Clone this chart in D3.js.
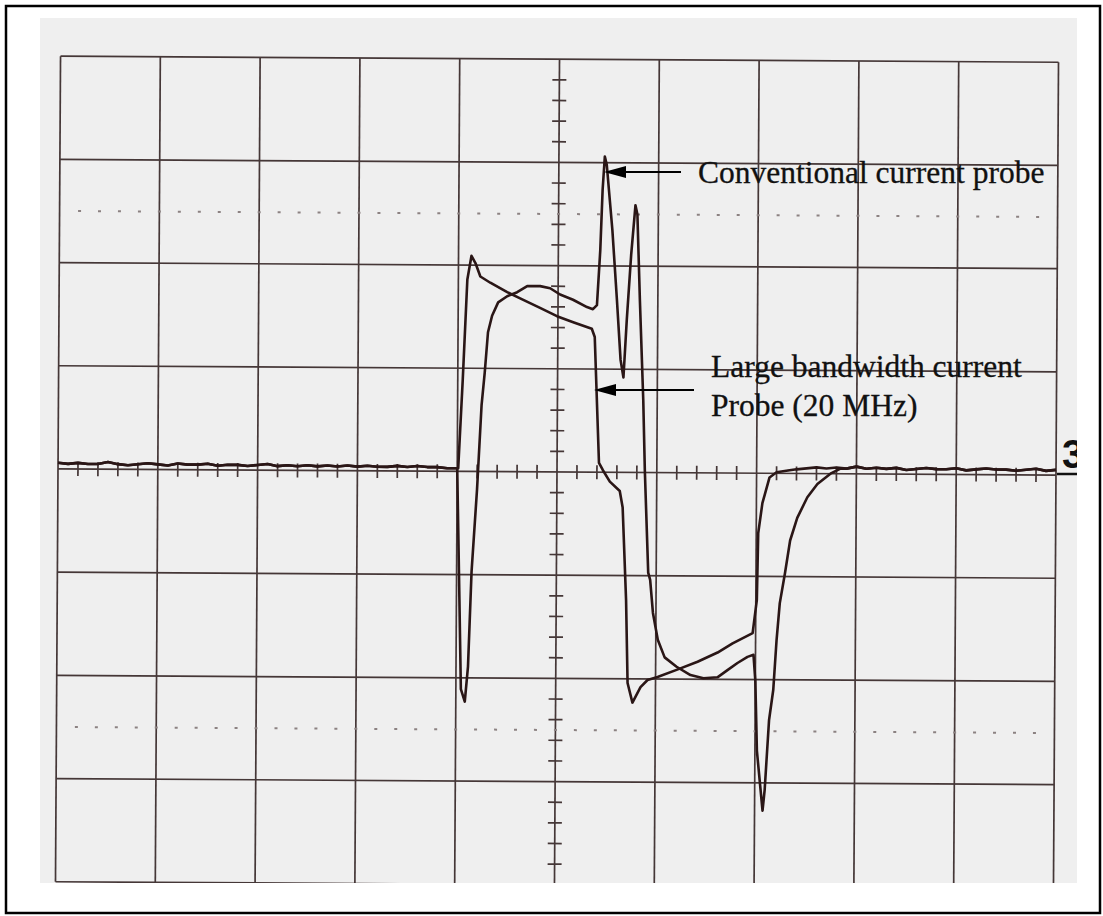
<!DOCTYPE html>
<html>
<head>
<meta charset="utf-8">
<script src="https://cdn.jsdelivr.net/npm/d3@7"></script>
<style>
  body { margin: 0; background: #fff; }
  svg { display: block; }
</style>
</head>
<body>
<div id="chart"></div>
<script>
// scope screen in divisions: time 0..10, amplitude -4..4
const baselineLeft = [[0, 0.06], [0.1, 0.05], [0.2, 0.06], [0.3, 0.05], [0.4, 0.05], [0.5, 0.07], [0.6, 0.05], [0.7, 0.04], [0.8, 0.05], [0.9, 0.06],
	[1.0, 0.05], [1.1, 0.04], [1.2, 0.06], [1.3, 0.05], [1.4, 0.05], [1.5, 0.06], [1.6, 0.04], [1.7, 0.05], [1.8, 0.05], [1.9, 0.04],
	[2.0, 0.05], [2.1, 0.06], [2.2, 0.04], [2.3, 0.05], [2.4, 0.04], [2.5, 0.05], [2.6, 0.04], [2.7, 0.05], [2.8, 0.04], [2.9, 0.05],
	[3.0, 0.04], [3.1, 0.05], [3.2, 0.04], [3.3, 0.04], [3.4, 0.05], [3.5, 0.04], [3.6, 0.05], [3.7, 0.04], [3.8, 0.04], [3.9, 0.03]];

const baselineRight = [[7.4, 0.04], [7.5, 0.05], [7.6, 0.06], [7.7, 0.05], [7.8, 0.06], [7.9, 0.05], [8.0, 0.07], [8.1, 0.05], [8.2, 0.06],
	[8.3, 0.05], [8.4, 0.06], [8.5, 0.04], [8.6, 0.05], [8.7, 0.06], [8.8, 0.05], [8.9, 0.05], [9.0, 0.06], [9.1, 0.04], [9.2, 0.05],
	[9.3, 0.06], [9.4, 0.05], [9.5, 0.05], [9.6, 0.04], [9.7, 0.05], [9.8, 0.06], [9.9, 0.04], [10.0, 0.05]];

// large bandwidth current probe (20 MHz)
const largeBandwidth = [[4.01, 0.03], [4.05, 0.89], [4.09, 1.86], [4.13, 2.09], [4.17, 2.02], [4.22, 1.89], [4.32, 1.83], [4.49, 1.74],
	[4.62, 1.68], [4.82, 1.59], [4.99, 1.51], [5.16, 1.45], [5.34, 1.39], [5.37, 1.31], [5.42, 0.09], [5.46, 0.02], [5.53, -0.09],
	[5.63, -0.18], [5.66, -0.34], [5.70, -1.24], [5.72, -2.04], [5.77, -2.23], [5.85, -2.08], [5.92, -2.01], [6.02, -1.98],
	[6.21, -1.91], [6.42, -1.83], [6.62, -1.74], [6.77, -1.65], [6.97, -1.55], [7.01, -1.23], [7.02, -0.58], [7.06, -0.29],
	[7.13, -0.04], [7.20, 0.01], [7.33, 0.03]];

// conventional current probe
const conventional = [[4.0, 0.03], [4.03, -1.24], [4.05, -2.11], [4.09, -2.23], [4.12, -1.89], [4.15, -0.97], [4.20, -0.17],
	[4.24, 0.64], [4.27, 0.96], [4.30, 1.35], [4.34, 1.51], [4.40, 1.64], [4.49, 1.70], [4.59, 1.74], [4.69, 1.80], [4.82, 1.80],
	[4.92, 1.78], [5.02, 1.72], [5.15, 1.67], [5.29, 1.60], [5.35, 1.58], [5.39, 1.62], [5.42, 2.15], [5.44, 2.74], [5.46, 3.06],
	[5.48, 2.98], [5.54, 2.35], [5.59, 1.67], [5.63, 1.09], [5.66, 0.92], [5.69, 1.48], [5.73, 2.11], [5.77, 2.59], [5.79, 2.50],
	[5.82, 1.67], [5.86, 0.70], [5.88, 0.02], [5.92, -0.97], [5.94, -1.04], [5.97, -1.36], [6.02, -1.62], [6.09, -1.79],
	[6.21, -1.88], [6.35, -1.96], [6.48, -1.99], [6.62, -1.98], [6.72, -1.91], [6.82, -1.84], [6.92, -1.78], [6.98, -1.76],
	[7.00, -2.01], [7.02, -2.69], [7.08, -3.27], [7.10, -3.07], [7.14, -2.39], [7.18, -2.10], [7.21, -1.62], [7.24, -1.26],
	[7.29, -0.97], [7.34, -0.65], [7.41, -0.43], [7.51, -0.23], [7.61, -0.10], [7.74, 0.00], [7.84, 0.05]];

const conventionalLabel = 'Conventional current probe';
const largeBandwidthLabel = ['Large bandwidth current', 'Probe (20 MHz)'];
const channelLabel = '3';
const dottedLevels = [2.5, -2.5];

const W = 1103, H = 916;
const ink = '#2a1616';
const gridInk = '#453737';

const svg = d3.select('#chart').append('svg').attr('width', W).attr('height', H);

// page frame
svg.append('rect').attr('x', 6).attr('y', 6).attr('width', W - 9).attr('height', H - 9)
	.attr('fill', '#fff').attr('stroke', '#000').attr('stroke-width', 2.5);

// the photographed screen
svg.append('clipPath').attr('id', 'photo').append('rect')
	.attr('x', 40).attr('y', 18).attr('width', 1037).attr('height', 865);
svg.append('rect').attr('x', 40).attr('y', 18).attr('width', 1037).attr('height', 865).attr('fill', '#efefef');

const photo = svg.append('g').attr('clip-path', 'url(#photo)');

const xScale = d3.scaleLinear().domain([0, 10]).range([58, 1056]);
const yScale = d3.scaleLinear().domain([-4, 4]).range([884.8, 59.2]);

// scan is slightly tilted
const screen = photo.append('g').attr('transform', `rotate(0.35, ${xScale(5)}, ${yScale(0)})`);

// major grid
screen.append('g').selectAll('line').data(d3.range(0, 11)).join('line')
	.attr('x1', (d) => xScale(d)).attr('x2', (d) => xScale(d))
	.attr('y1', yScale(4)).attr('y2', yScale(-4))
	.attr('stroke', gridInk).attr('stroke-width', 1.7);
screen.append('g').selectAll('line').data(d3.range(-4, 5)).join('line')
	.attr('y1', (d) => yScale(d)).attr('y2', (d) => yScale(d))
	.attr('x1', xScale(0)).attr('x2', xScale(10))
	.attr('stroke', gridInk).attr('stroke-width', 1.7);

// minor ticks on the centre axes
const minorT = d3.range(1, 50).map((i) => i / 5).filter((d) => d % 1 !== 0);
const minorV = d3.range(-19, 20).map((i) => i / 5).filter((d) => d % 1 !== 0);
screen.append('g').selectAll('line').data(minorT).join('line')
	.attr('x1', (d) => xScale(d)).attr('x2', (d) => xScale(d))
	.attr('y1', yScale(0) - 7).attr('y2', yScale(0) + 7)
	.attr('stroke', gridInk).attr('stroke-width', 1.7);
screen.append('g').selectAll('line').data(minorV).join('line')
	.attr('y1', (d) => yScale(d)).attr('y2', (d) => yScale(d))
	.attr('x1', xScale(5) - 7).attr('x2', xScale(5) + 7)
	.attr('stroke', gridInk).attr('stroke-width', 1.7);

// dotted rise-time levels
const dots = [];
dottedLevels.forEach((v) => minorT.concat(d3.range(1, 10)).forEach((t) => dots.push([t, v])));
screen.append('g').selectAll('rect').data(dots).join('rect')
	.attr('x', (d) => xScale(d[0]) - 1.5).attr('y', (d) => yScale(d[1]) - 1)
	.attr('width', 3).attr('height', 2)
	.attr('fill', '#8c8282');

// traces
const line = d3.line().x((d) => xScale(d[0])).y((d) => yScale(d[1]));
const traceLarge = baselineLeft.concat(largeBandwidth, baselineRight);
const traceConv = baselineLeft.concat(conventional, baselineRight.filter((d) => d[0] > 7.84));

screen.append('path').datum(traceLarge).attr('d', line)
	.attr('fill', 'none').attr('stroke', ink).attr('stroke-width', 2.6).attr('stroke-linejoin', 'round');
screen.append('path').datum(traceConv).attr('d', line)
	.attr('fill', 'none').attr('stroke', ink).attr('stroke-width', 2.6).attr('stroke-linejoin', 'round');

// channel marker
photo.append('text').attr('x', 1062).attr('y', 468)
	.style('font-family', '"Liberation Sans", Arial, sans-serif').style('font-weight', 'bold').style('font-size', '40px')
	.attr('fill', '#111').text(channelLabel);
photo.append('line').attr('x1', 1057).attr('x2', 1077).attr('y1', 474).attr('y2', 474)
	.attr('stroke', '#111').attr('stroke-width', 2.5);

// annotations
const serif = '"Liberation Serif", "Times New Roman", serif';

function arrow(x1, x2, y) {
	svg.append('line').attr('x1', x1 + 18).attr('x2', x2).attr('y1', y).attr('y2', y)
		.attr('stroke', '#000').attr('stroke-width', 1.8);
	svg.append('path').attr('d', `M${x1},${y} L${x1 + 22},${y - 6} L${x1 + 22},${y + 6} Z`).attr('fill', '#000');
}

arrow(604, 681, 172);
arrow(594, 694, 390);

svg.append('text').attr('x', 698).attr('y', 183)
	.style('font-family', serif).style('font-size', '31.5px').attr('fill', '#111')
	.attr('stroke', '#111').attr('stroke-width', 0.3)
	.text(conventionalLabel);

svg.append('text').attr('x', 711).attr('y', 377)
	.style('font-family', serif).style('font-size', '31.5px').attr('fill', '#111')
	.attr('stroke', '#111').attr('stroke-width', 0.3)
	.selectAll('tspan').data(largeBandwidthLabel).join('tspan')
	.attr('x', 711).attr('dy', (d, i) => (i ? 39 : 0))
	.text((d) => d);
</script>
</body>
</html>
